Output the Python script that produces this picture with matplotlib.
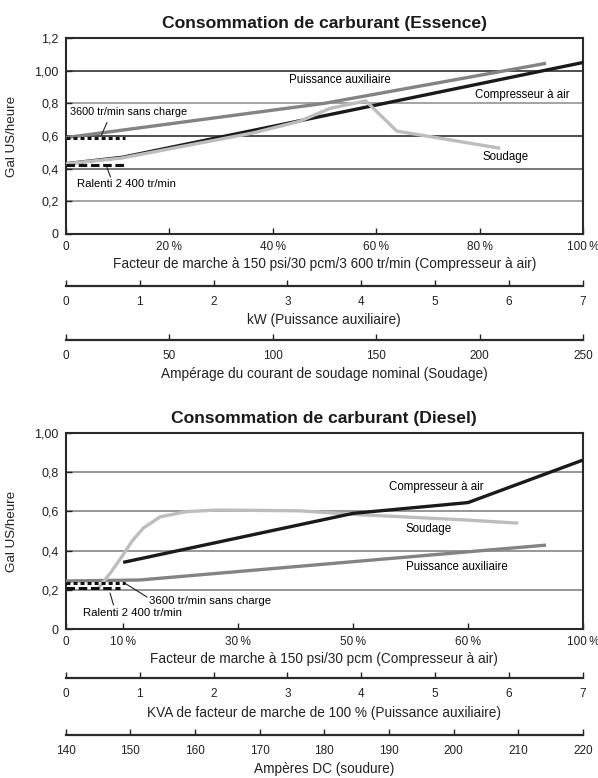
import numpy as np
import matplotlib.pyplot as plt

plt.rcParams['font.family'] = ['Liberation Sans', 'DejaVu Sans']

W, H = 598, 778

# ---- Essence (top chart) ----
ess_comp_pct = [0, 11, 100]
ess_comp_gal = [0.43, 0.47, 1.05]
ess_aux_kw = [0, 3.5, 6.5]
ess_aux_gal = [0.59, 0.80, 1.045]
ess_weld_amp = [0, 27, 91, 113, 128, 145, 160, 210]
ess_weld_gal = [0.43, 0.465, 0.62, 0.69, 0.77, 0.815, 0.63, 0.525]
ess_noload_gal = 0.59   # 3600 tr/min sans charge
ess_idle_gal = 0.425    # ralenti 2 400 tr/min
ess_pct_ticks = [0, 20, 40, 60, 80, 100]
ess_kw_ticks = [0, 1, 2, 3, 4, 5, 6, 7]
ess_amp_ticks = [0, 50, 100, 150, 200, 250]

# ---- Diesel (bottom chart) ----
dsl_comp_pct = [10, 50, 60, 100]
dsl_comp_gal = [0.34, 0.59, 0.645, 0.862]
dsl_aux_kva = [0, 1.0, 6.5]
dsl_aux_gal = [0.245, 0.25, 0.428]
dsl_weld_amp = [144.9, 147.0, 148.7, 150.3, 152.0, 154.6, 158.7, 163.4, 176.2, 184.4, 202, 210]
dsl_weld_gal = [0.20, 0.29, 0.37, 0.45, 0.515, 0.572, 0.599, 0.607, 0.603, 0.585, 0.556, 0.54]
dsl_noload_gal = 0.236
dsl_idle_gal = 0.211
dsl_pct_ticks = [0, 10, 30, 50, 60, 100]
dsl_pct_slots = [0, 0.5, 1.5, 2.5, 3.5, 4.5]   # uneven printed scale
dsl_kva_ticks = [0, 1, 2, 3, 4, 5, 6, 7]
dsl_amp_ticks = [140, 150, 160, 170, 180, 190, 200, 210, 220]

C_COMP = '#1a1a1a'
C_AUX = '#838383'
C_WELD = '#bdbdbd'
C_AXIS = '#2a2a2a'

AX_L, AX_R = 65.7, 583.0
FS_TICK = 8.5
FS_AXTITLE = 9.8
FS_LABEL = 8.3


def fx(px):
    return px / W


def fy(py):
    return 1 - py / H


fig = plt.figure(figsize=(W / 100, H / 100), dpi=100)


def main_axes(top, bottom, ymax, ylabels, grid_colors, title):
    ax = fig.add_axes([fx(AX_L), fy(bottom), (AX_R - AX_L) / W, (bottom - top) / H])
    ax.set_xlim(0, 7)
    ax.set_ylim(0, ymax)
    yt = np.arange(0, ymax + 0.01, 0.2)
    ax.set_yticks(yt, ylabels)
    for y, c in zip(yt[1:-1], grid_colors):
        ax.axhline(y, color=c, lw=1.1, zorder=1)
    for s in ax.spines.values():
        s.set_color(C_AXIS)
        s.set_linewidth(1.5)
    ax.tick_params(axis='y', direction='in', length=4, width=1, pad=5, labelsize=9, colors='#222')
    ax.tick_params(axis='x', direction='in', length=4, width=1, pad=5, labelsize=FS_TICK, colors='#222')
    ax.set_ylabel('Gal US/heure', fontsize=9.6, color='#222')
    ax.yaxis.set_label_coords((18 - AX_L) / (AX_R - AX_L), 0.5)
    ax.set_title(title, fontsize=12.6, fontweight='bold', color='#1a1a1a', pad=7)
    return ax


def scale_axis(py, pos, labels, title, title_py):
    sa = fig.add_axes([fx(AX_L), fy(py), (AX_R - AX_L) / W, 0.0001])
    sa.set_xlim(0, 7)
    sa.set_yticks([])
    sa.patch.set_visible(False)
    for s in ['top', 'left', 'right']:
        sa.spines[s].set_visible(False)
    sa.spines['bottom'].set_color(C_AXIS)
    sa.spines['bottom'].set_linewidth(1.6)
    sa.set_xticks(pos, labels)
    sa.tick_params(axis='x', direction='in', length=4, width=1, pad=7, labelsize=FS_TICK, colors='#222')
    fig.text(fx((AX_L + AX_R) / 2), fy(title_py), title, ha='center', va='center',
             fontsize=FS_AXTITLE, color='#222')
    return sa


def to_data(ax_bottom, ymax, px, py):
    return (px - AX_L) / (AX_R - AX_L) * 7, (ax_bottom - py) / 196.0 * ymax


def pct_label(p):
    return '0' if p == 0 else '%d\u2009%%' % p


# ================= top chart =================
ax1 = main_axes(38, 234, 1.2, ['0', '0,2', '0,4', '0,6', '0,8', '1,00', '1,2'],
                ['#8a8a8a', '#555555', '#1e1e1e', '#8a8a8a', '#1e1e1e'],
                'Consommation de carburant (Essence)')
pct2x = lambda p: np.asarray(p, float) * 7 / 100
amp2x = lambda a: np.asarray(a, float) * 7 / 250

ax1.plot(ess_aux_kw, ess_aux_gal, color=C_AUX, lw=2.4, zorder=3, solid_capstyle='butt')
ax1.plot(pct2x(ess_comp_pct), ess_comp_gal, color=C_COMP, lw=2.4, zorder=3, solid_capstyle='butt')
ax1.plot(amp2x(ess_weld_amp), ess_weld_gal, color=C_WELD, lw=2.4, zorder=4, solid_capstyle='butt')
ax1.plot(pct2x([0, 11.5]), [ess_noload_gal] * 2, color='#111', lw=2.2, ls=(0, (1.3, 1.0)), zorder=5)
ax1.plot(pct2x([0, 11.3]), [ess_idle_gal] * 2, color='#111', lw=2.2, ls=(0, (2.8, 1.2)), zorder=5)
ax1.set_xticks(pct2x(ess_pct_ticks), [pct_label(p) for p in ess_pct_ticks])

ax1.text(*to_data(234, 1.2, 339.5, 80), 'Puissance auxiliaire', ha='center', va='center', fontsize=FS_LABEL)
ax1.text(*to_data(234, 1.2, 522, 95), 'Compresseur à air', ha='center', va='center', fontsize=FS_LABEL)
ax1.text(*to_data(234, 1.2, 505.5, 157), 'Soudage', ha='center', va='center', fontsize=FS_LABEL)
ax1.text(*to_data(234, 1.2, 70, 112), '3600 tr/min sans charge', ha='left', va='center', fontsize=7.8)
ax1.text(*to_data(234, 1.2, 76.7, 184), 'Ralenti 2 400 tr/min', ha='left', va='center', fontsize=8.2)
ax1.annotate('', xy=to_data(234, 1.2, 101.5, 135), xytext=to_data(234, 1.2, 107, 122.5),
             arrowprops=dict(arrowstyle='-', lw=0.8, color='#222', shrinkA=0, shrinkB=0))
ax1.annotate('', xy=to_data(234, 1.2, 107, 167.5), xytext=to_data(234, 1.2, 110.5, 177),
             arrowprops=dict(arrowstyle='-', lw=0.8, color='#222', shrinkA=0, shrinkB=0))

fig.text(fx((AX_L + AX_R) / 2), fy(264), 'Facteur de marche à 150 psi/30 pcm/3 600 tr/min (Compresseur à air)',
         ha='center', va='center', fontsize=FS_AXTITLE, color='#222')
scale_axis(286, ess_kw_ticks, [str(v) for v in ess_kw_ticks], 'kW (Puissance auxiliaire)', 320)
scale_axis(340, amp2x(ess_amp_ticks), [str(v) for v in ess_amp_ticks],
           'Ampérage du courant de soudage nominal (Soudage)', 374)

# ================= bottom chart =================
ax2 = main_axes(433, 629, 1.0, ['0', '0,2', '0,4', '0,6', '0,8', '1,00'],
                ['#7a7a7a'] * 4, 'Consommation de carburant (Diesel)')
slot_x = np.asarray(dsl_pct_slots) * 7 / 4.5
dpct2x = lambda p: np.interp(p, dsl_pct_ticks, slot_x)
damp2x = lambda a: (np.asarray(a, float) - 140) * 7 / 80

ax2.plot(dsl_aux_kva, dsl_aux_gal, color=C_AUX, lw=2.4, zorder=3, solid_capstyle='butt')
ax2.plot(damp2x(dsl_weld_amp), dsl_weld_gal, color=C_WELD, lw=2.4, zorder=3, solid_capstyle='butt')
ax2.plot(dpct2x(dsl_comp_pct), dsl_comp_gal, color=C_COMP, lw=2.4, zorder=4, solid_capstyle='butt')
ax2.plot(dpct2x([0, 10.3]), [dsl_noload_gal] * 2, color='#111', lw=2.2, ls=(0, (1.3, 1.0)), zorder=5)
ax2.plot(dpct2x([0, 9.4]), [dsl_idle_gal] * 2, color='#111', lw=2.2, ls=(0, (2.8, 1.2)), zorder=5)
ax2.set_xticks(slot_x, [pct_label(p) for p in dsl_pct_ticks])

ax2.text(*to_data(629, 1.0, 436, 487), 'Compresseur à air', ha='center', va='center', fontsize=FS_LABEL)
ax2.text(*to_data(629, 1.0, 429, 529), 'Soudage', ha='center', va='center', fontsize=FS_LABEL)
ax2.text(*to_data(629, 1.0, 457, 567), 'Puissance auxiliaire', ha='center', va='center', fontsize=FS_LABEL)
ax2.text(*to_data(629, 1.0, 149, 601), '3600 tr/min sans charge', ha='left', va='center', fontsize=8.2)
ax2.text(*to_data(629, 1.0, 83, 613), 'Ralenti 2 400 tr/min', ha='left', va='center', fontsize=8.2)
ax2.annotate('', xy=to_data(629, 1.0, 124.5, 583), xytext=to_data(629, 1.0, 147, 597),
             arrowprops=dict(arrowstyle='-', lw=0.8, color='#222', shrinkA=0, shrinkB=0))
ax2.annotate('', xy=to_data(629, 1.0, 110, 593), xytext=to_data(629, 1.0, 113.5, 605),
             arrowprops=dict(arrowstyle='-', lw=0.8, color='#222', shrinkA=0, shrinkB=0))

fig.text(fx((AX_L + AX_R) / 2), fy(659), 'Facteur de marche à 150 psi/30 pcm (Compresseur à air)',
         ha='center', va='center', fontsize=FS_AXTITLE, color='#222')
scale_axis(678, dsl_kva_ticks, [str(v) for v in dsl_kva_ticks],
           'KVA de facteur de marche de 100 % (Puissance auxiliaire)', 713)
scale_axis(735, damp2x(dsl_amp_ticks), [str(v) for v in dsl_amp_ticks], 'Ampères DC (soudure)', 769)

fig.savefig('out.png', dpi=100)
